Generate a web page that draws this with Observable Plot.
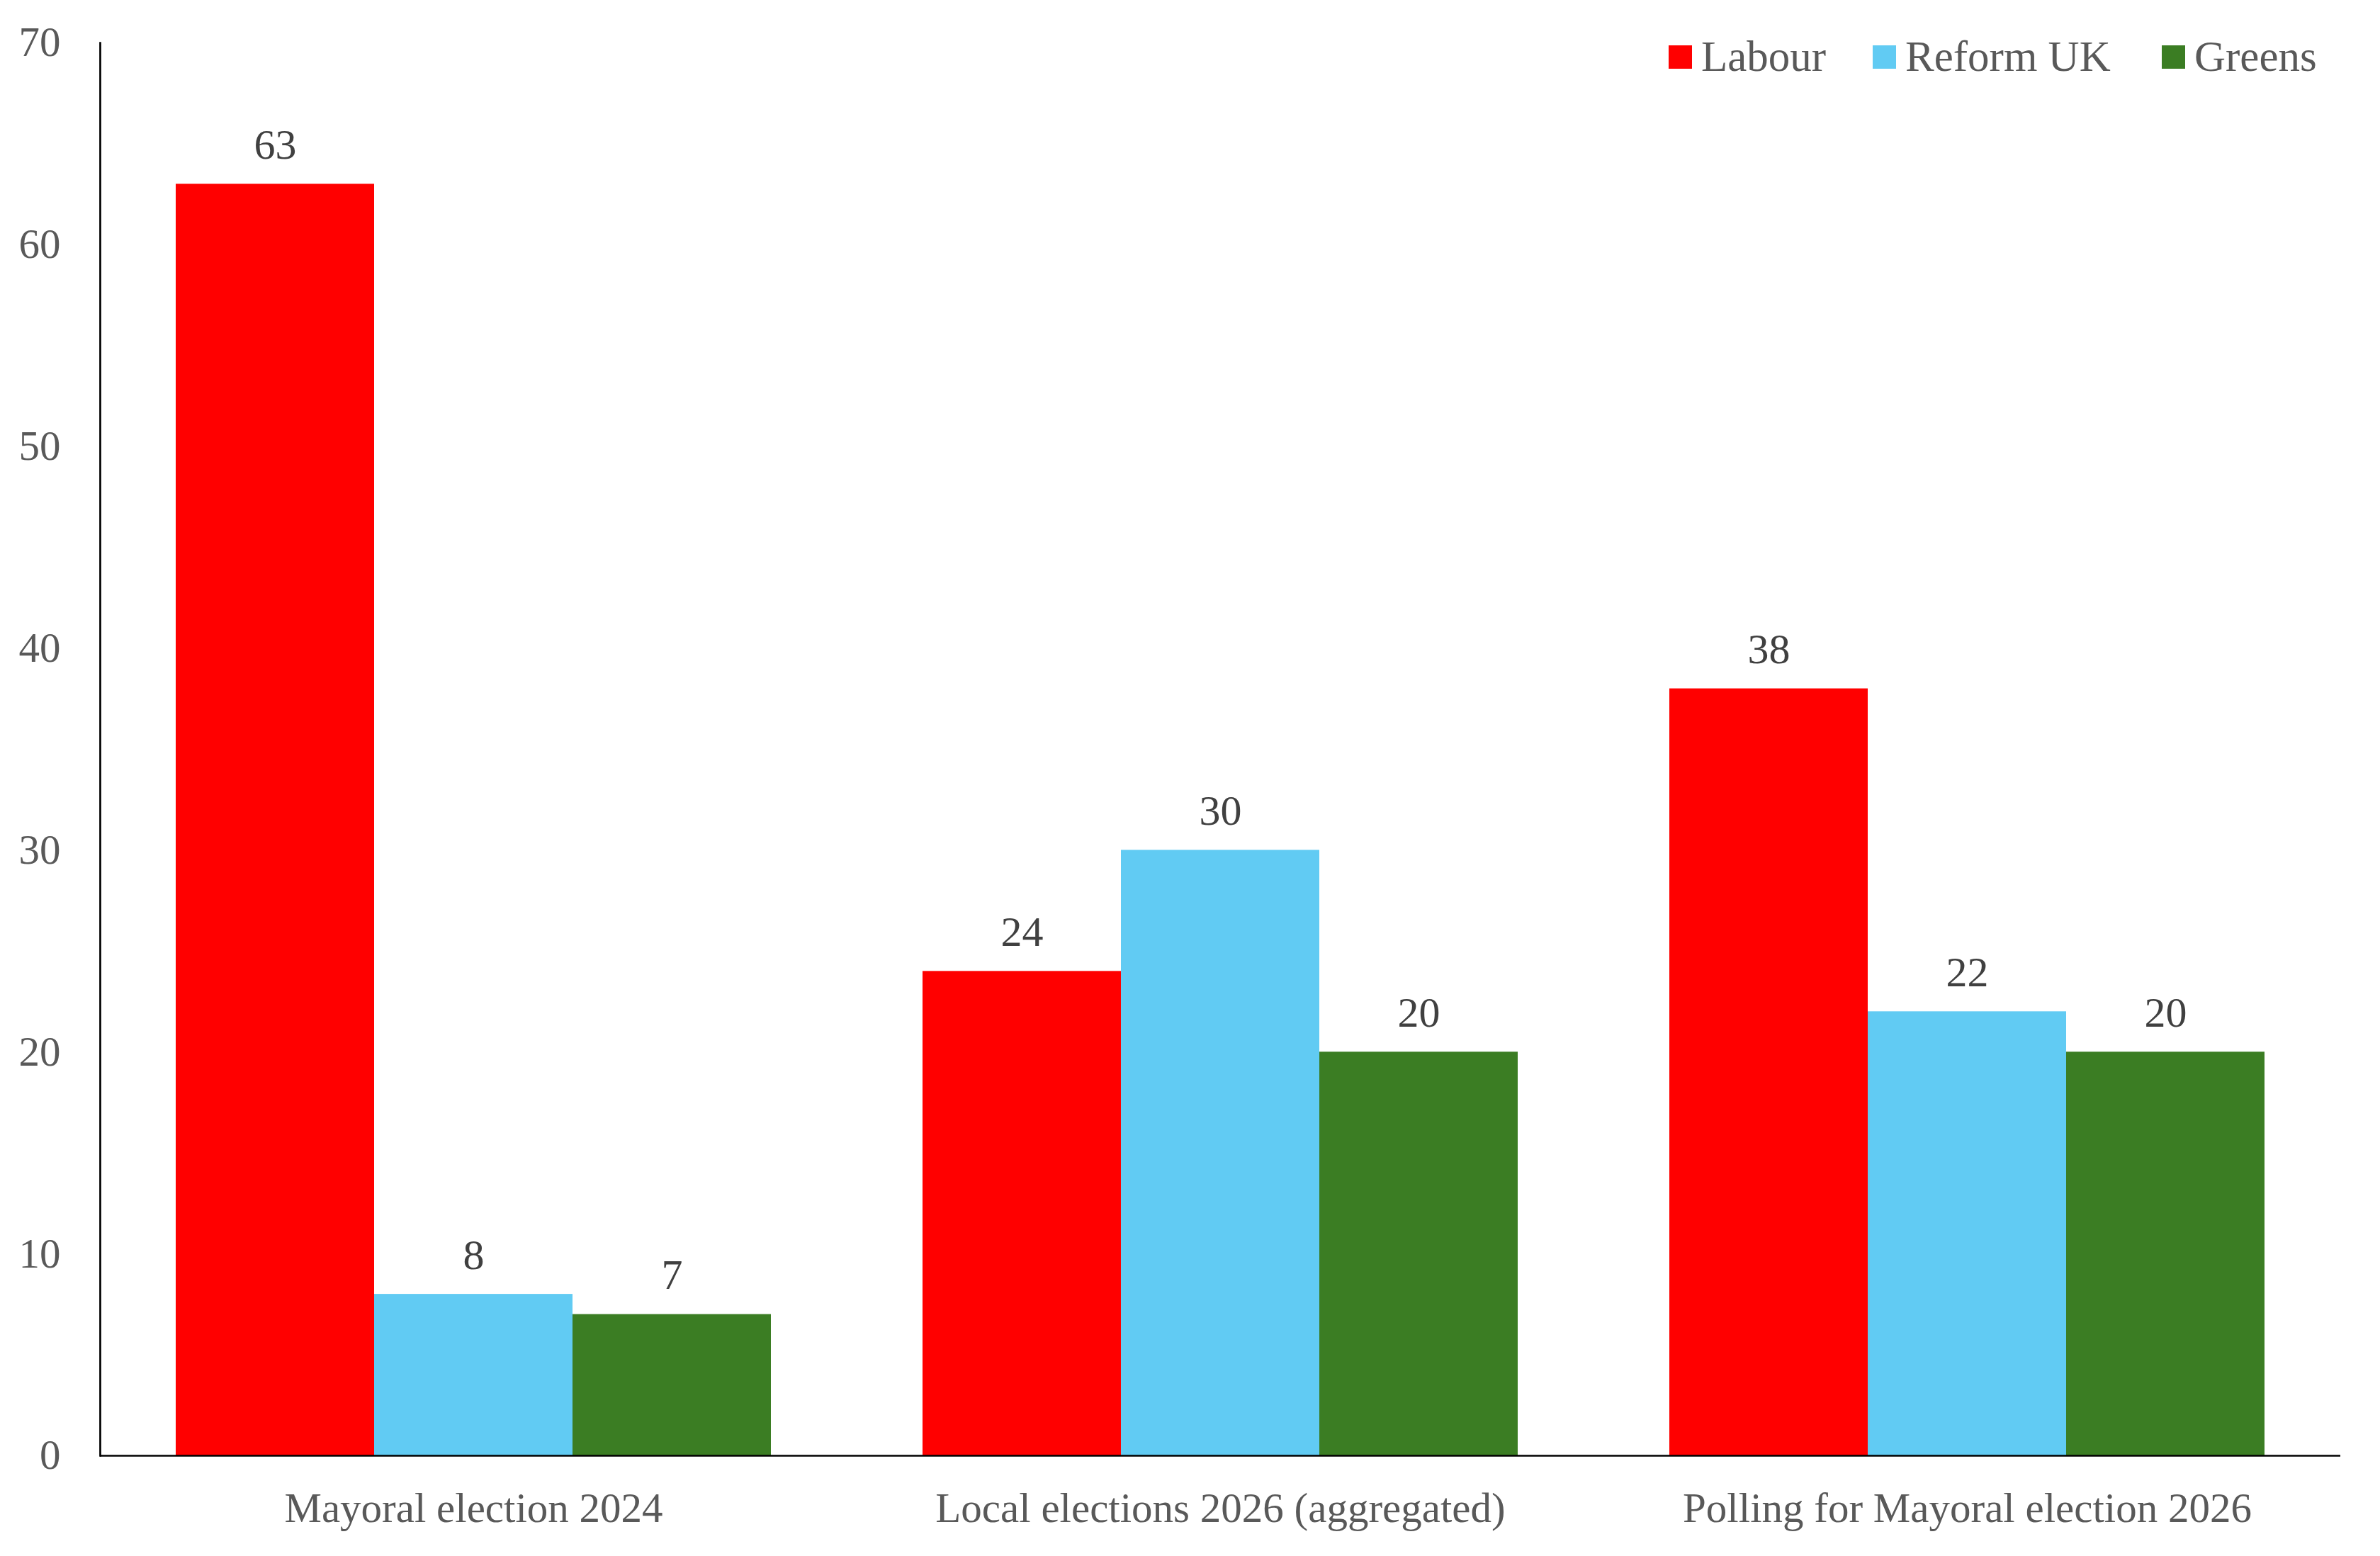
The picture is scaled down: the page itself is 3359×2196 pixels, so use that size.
<!DOCTYPE html>
<html>
<head>
<meta charset="utf-8">
<script src="https://cdn.jsdelivr.net/npm/d3@7"></script>
<script src="https://cdn.jsdelivr.net/npm/@observablehq/plot@0.6"></script>
<style>
  html, body { margin: 0; padding: 0; background: white; }
  #wrap { position: relative; width: 3359px; height: 2196px; }
  #legend { position: absolute; left: 0; top: 0; width: 3359px; height: 160px;
    font-family: "Liberation Serif", serif; font-size: 61px; color: #595959; }
  #legend .item { position: absolute; top: 44px; height: 72px; display: flex; align-items: center; gap: 13px; white-space: nowrap; }
  #legend .sw { width: 33px; height: 33px; display: inline-block; }
</style>
</head>
<body>
<div id="wrap">
  <div id="chart"></div>
  <div id="legend"></div>
</div>
<script>
const categories = ["Mayoral election 2024", "Local elections 2026 (aggregated)", "Polling for Mayoral election 2026"];
const parties = ["Labour", "Reform UK", "Greens"];
const labour = [63, 24, 38];
const reform = [8, 30, 22];
const greens = [7, 20, 20];
const partyColors = ["#FF0000", "#61CBF3", "#3B7D23"];
const yTicks = [0, 10, 20, 30, 40, 50, 60, 70];

const series = [labour, reform, greens];
const data = categories.flatMap((c, i) => parties.map((p, j) => ({category: c, party: p, value: series[j][i]})));

const chart = Plot.plot({
  width: 3359,
  height: 2196,
  marginTop: 60,
  marginBottom: 142,
  marginLeft: 140,
  marginRight: 55,
  style: {fontFamily: "'Liberation Serif', serif", fontSize: "59px", color: "#595959", background: "white"},
  fx: {domain: categories, paddingInner: 0, paddingOuter: 0, label: null, tickSize: 0, tickPadding: 52, axis: "bottom"},
  x: {domain: parties, paddingInner: 0, paddingOuter: 0.376, axis: null},
  y: {domain: [0, 70], ticks: yTicks, tickSize: 0, tickPadding: 56, label: null},
  color: {domain: parties, range: partyColors},
  marks: [
    Plot.barY(data, {fx: "category", x: "party", y: "value", fill: "party"}),
    Plot.text(data, {fx: "category", x: "party", y: "value", text: d => String(d.value), dy: -55, fill: "#404040", fontSize: 60}),
    Plot.frame({anchor: "left", facetAnchor: "left", stroke: "black", strokeWidth: 2.7}),
    Plot.ruleY([0], {stroke: "black", strokeWidth: 2.7})
  ]
});
document.getElementById("chart").appendChild(chart);

const legendLefts = [2355, 2643, 3051];
const legend = document.getElementById("legend");
parties.forEach((p, i) => {
  const item = document.createElement("div");
  item.className = "item";
  item.style.left = legendLefts[i] + "px";
  const sw = document.createElement("span");
  sw.className = "sw";
  sw.style.background = partyColors[i];
  const t = document.createElement("span");
  t.textContent = p;
  item.appendChild(sw);
  item.appendChild(t);
  legend.appendChild(item);
});
</script>
</body>
</html>
